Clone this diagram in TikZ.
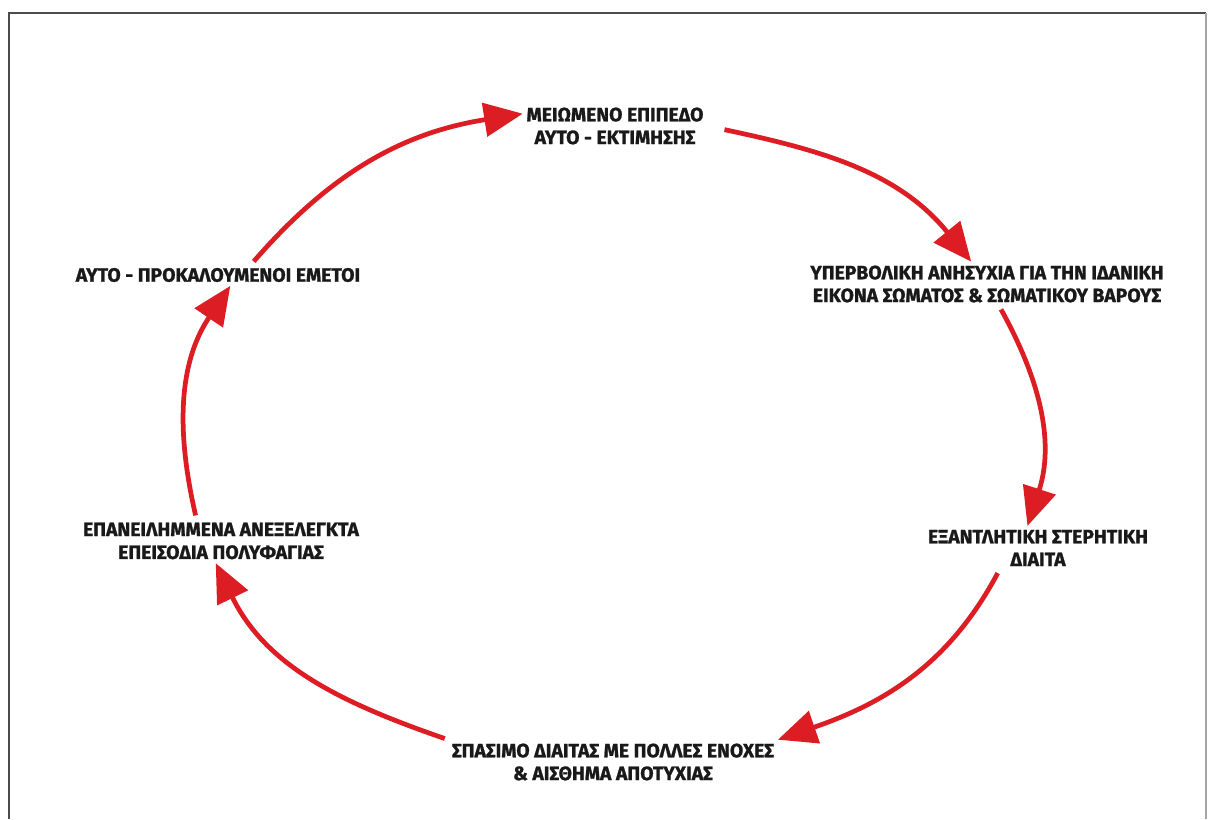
\documentclass[tikz,border=0pt]{standalone}
\usepackage{fontspec}
\newfontfamily\cyclefont{Fira Sans}[FakeBold=1.2]
\usepackage{tikz}
\usetikzlibrary{
  positioning,
  arrows.meta
}
\usepackage{xcolor}
\definecolor{cyclered}{RGB}{220,30,36}

\begin{document}
\begin{tikzpicture}[x=0.02cm,y=0.02cm,>={Triangle[length=22pt,width=19pt]},
    stage/.style={align=center,text=black!90,inner sep=2pt,
      font=\cyclefont\bfseries\fontsize{11}{13}\selectfont},
    cyc/.style={->,draw=cyclered,line width=2.7pt,shorten <=2pt}]
            \useasboundingbox (0,0) rectangle (1209,819);
            % frame
            \draw[black!70,line width=1.3pt] (9,0) -- (9,806) -- (1206,806);
            \draw[black!35,line width=1.3pt] (1206,806) -- (1206,0);
            % stages of the cycle
            \node[stage] (top) at (615,693) {ΜΕΙΩΜΕΝΟ ΕΠΙΠΕΔΟ\\ΑΥΤΟ - ΕΚΤΙΜΗΣΗΣ};
            \node[stage] (worry) at (987,535) {ΥΠΕΡΒΟΛΙΚΗ ΑΝΗΣΥΧΙΑ ΓΙΑ ΤΗΝ ΙΔΑΝΙΚΗ\\ΕΙΚΟΝΑ ΣΩΜΑΤΟΣ \& ΣΩΜΑΤΙΚΟΥ ΒΑΡΟΥΣ};
            \node[stage] (diet) at (1038,271) {ΕΞΑΝΤΛΗΤΙΚΗ ΣΤΕΡΗΤΙΚΗ\\ΔΙΑΙΤΑ};
            \node[stage] (guilt) at (613,57) {ΣΠΑΣΙΜΟ ΔΙΑΙΤΑΣ ΜΕ ΠΟΛΛΕΣ ΕΝΟΧΕΣ\\\& ΑΙΣΘΗΜΑ ΑΠΟΤΥΧΙΑΣ};
            \node[stage] (binge) at (221,278) {ΕΠΑΝΕΙΛΗΜΜΕΝΑ ΑΝΕΞΕΛΕΓΚΤΑ\\ΕΠΕΙΣΟΔΙΑ ΠΟΛΥΦΑΓΙΑΣ};
            \node[stage] (vomit) at (218,544) {ΑΥΤΟ - ΠΡΟΚΑΛΟΥΜΕΝΟΙ ΕΜΕΤΟΙ};
            % arrows
            \draw[cyc,shorten <=10pt] (top.east) to[out=-12,in=129] ([xshift=-9pt]worry.north);
            \draw[cyc] ([xshift=7pt]worry.south) to[out=-61,in=72] ([xshift=-6pt]diet.north);
            \draw[cyc] ([xshift=-22pt]diet.south) to[out=-118,in=19] (guilt.north east);
            \draw[cyc] (guilt.north west) to[out=161,in=-64] ([xshift=-3pt]binge.south);
            \draw[cyc] ([xshift=-14pt]binge.north) to[out=103,in=236] ([xshift=7pt]vomit.south);
            \draw[cyc] ([xshift=19pt]vomit.north) to[out=49,in=189] ([yshift=7pt]top.west);
        \end{tikzpicture}
\end{document}
